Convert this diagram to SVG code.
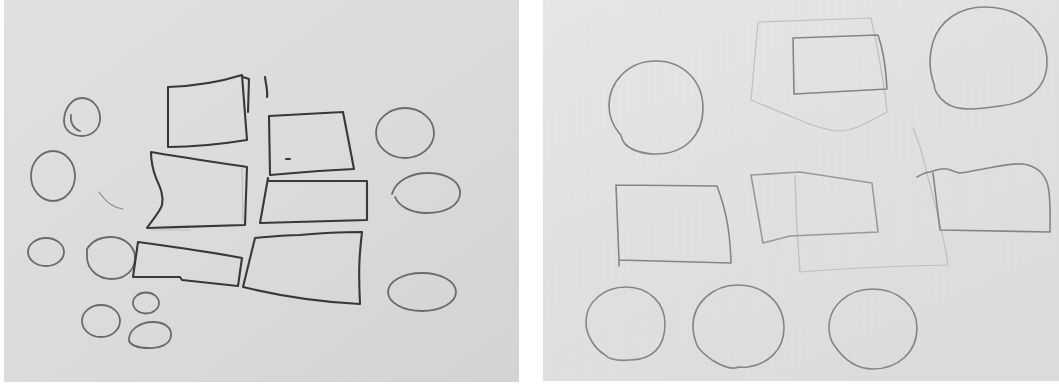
<svg xmlns="http://www.w3.org/2000/svg" width="1059" height="387" viewBox="0 0 1059 387">
<defs>
<linearGradient id="paperL" x1="0" y1="0" x2="1" y2="1">
<stop offset="0" stop-color="#dfe0df"/>
<stop offset="0.5" stop-color="#dadbda"/>
<stop offset="1" stop-color="#d2d3d2"/>
</linearGradient>
<linearGradient id="paperR" x1="0" y1="0" x2="0.6" y2="1">
<stop offset="0" stop-color="#e6e6e5"/>
<stop offset="1" stop-color="#dcdcdb"/>
</linearGradient>
<pattern id="ruleR" width="9" height="10" patternUnits="userSpaceOnUse">
<line x1="4" y1="0" x2="4" y2="10" stroke="#d3d3d2" stroke-width="0.6"/>
</pattern>
</defs>
<style>
.dark{fill:none;stroke:#383838;stroke-width:2.1;stroke-linejoin:round;stroke-linecap:round}
.mid{fill:none;stroke:#6a6a6a;stroke-width:1.8;stroke-linecap:round}
.soft{fill:none;stroke:#858585;stroke-width:1.6;stroke-linejoin:round;stroke-linecap:round}
.faint{fill:none;stroke:#bfbfbe;stroke-width:1.2;stroke-linejoin:round;stroke-linecap:round}
</style>
<rect width="1059" height="387" fill="#ffffff"/>
<rect x="4" y="0" width="515" height="382" fill="url(#paperL)"/>
<rect x="543" y="0" width="516" height="381" fill="url(#paperR)"/>
<rect x="543" y="0" width="516" height="381" fill="url(#ruleR)" opacity="0.4"/>

<g id="left-sketch">
<g id="L-circle-1"><path class="mid" d="M82,98 C94,98 101,110 100,120 C99,131 90,136 82,136 C72,136 64,130 64,121 C64,110 71,98 82,98 Z M71,115 C70,123 74,129 80,131"/></g>
<g id="L-circle-2"><ellipse class="mid" cx="53" cy="176" rx="22" ry="25"/></g>
<g id="L-arc"><path class="faint" style="stroke:#8a8a8a" d="M99,192 C104,199 110,207 123,209"/></g>
<g id="L-circle-3"><ellipse class="mid" cx="46" cy="252" rx="18" ry="14"/></g>
<g id="L-circle-4"><path class="mid" d="M87,249 C92,241 101,237 111,237 C124,237 135,246 135,258 C135,271 124,279 112,279 C98,279 88,270 87,258 Z"/></g>
<g id="L-circle-5"><ellipse class="mid" cx="101" cy="321" rx="19" ry="16"/></g>
<g id="L-circle-6"><ellipse class="mid" cx="146" cy="303" rx="13" ry="10.5"/></g>
<g id="L-circle-7"><path class="mid" d="M129,341 C128,330 140,322 153,322 C165,322 172,328 171,336 C170,344 160,349 148,348 C138,348 131,345 129,341 Z"/></g>
<g id="L-rect-1"><path class="dark" d="M168,87 C195,86 220,82 242,75 L247,140 C222,144 195,147 168,147 Z M243,77 L249,79 L248,112"/></g>
<g id="L-rect-2"><path class="dark" d="M151,152 C185,158 215,162 247,167 L245,225 C215,226 180,227 147,228 C152,220 160,212 162,205 C164,195 160,187 156,178 C153,170 151,160 151,152 Z"/><path class="faint" d="M150,230 L190,230 M242,168 L243,222"/></g>
<g id="L-tick"><path class="dark" d="M265,77 C266,85 268,92 267,97"/></g>
<g id="L-rect-3"><path class="dark" d="M269,116 L343,112 L354,169 C330,170 300,172 270,175 Z"/><path class="dark" d="M286,159 L290,159"/></g>
<g id="L-rect-4"><path class="dark" d="M268,178 L268,181 L367,181 L367,220 C330,221 295,222 260,223 Z"/></g>
<g id="L-rect-5"><path class="dark" d="M138,242 C175,247 210,252 242,258 L238,286 L182,280 L180,277 L133,277 Z"/></g>
<g id="L-rect-6"><path class="dark" d="M255,238 C275,236 290,235 300,235 C320,233 340,232 362,232 C360,250 358,265 360,304 C320,302 280,296 243,287 Z"/></g>
<g id="L-circle-8"><ellipse class="mid" cx="405" cy="133" rx="29" ry="25"/></g>
<g id="L-circle-9"><path class="mid" d="M392,194 C396,180 412,173 428,173 C447,173 461,182 460,194 C459,206 445,213 427,213 C410,213 399,206 395,197"/></g>
<g id="L-circle-10"><ellipse class="mid" cx="422" cy="292" rx="34" ry="19"/></g>
</g>

<g id="right-sketch">
<g id="R-faint-1"><path class="faint" d="M758,22 L871,18 C878,50 884,80 887,112 M758,22 L751,100 L807,123 C820,128 830,131 840,131 C850,131 862,126 887,112"/></g>
<g id="R-faint-2"><path class="faint" d="M913,128 C918,140 922,150 926,170 C934,200 944,235 948,265 C900,266 850,268 800,272 L797,230 L795,175"/></g>
<g id="R-circle-1"><path class="soft" d="M656,61 C684,61 703,82 703,108 C703,134 686,154 656,154 C643,154 628,150 623,141 C621,137 622,135 619,133 C612,124 609,116 609,106 C609,82 628,61 656,61 Z"/></g>
<g id="R-rect-1"><path class="soft" d="M793,38 L878,35 C884,52 886,70 887,89 L794,94 Z"/></g>
<g id="R-circle-2"><path class="soft" d="M985,7 C1025,7 1047,35 1047,62 C1047,88 1028,103 1000,106 C980,109 958,112 946,103 C938,97 934,90 934,84 C929,70 929,55 933,42 C940,20 960,7 985,7 Z"/></g>
<g id="R-rect-2"><path class="soft" d="M616,185 L717,186 C724,205 730,225 731,263 L619,260 L619,266 M616,185 L619,260"/></g>
<g id="R-rect-3"><path class="soft" style="stroke:#999998" d="M751,175 L800,172 L872,183 L878,232 L790,236 L763,243 Z"/></g>
<g id="R-rect-4"><path class="soft" d="M917,177 C922,174 926,172 930,172 C936,170 942,168 947,169 C952,170 956,173 960,173 C970,172 975,170 983,169 C1000,166 1012,163 1023,164 C1036,166 1045,174 1048,186 C1051,200 1050,215 1050,232 L940,230 L933,173"/></g>
<g id="R-circle-3"><path class="soft" d="M626,287 C649,287 665,303 665,324 C665,347 652,360 630,360 C620,361 610,360 605,355 C594,348 586,335 586,322 C586,302 604,287 626,287 Z"/></g>
<g id="R-circle-4"><path class="soft" d="M738,285 C764,285 784,303 784,328 C784,350 768,364 748,367 C742,368 740,366 735,368 C728,369 720,365 712,360 C706,355 700,352 697,345 C694,338 693,332 693,326 C693,303 713,285 738,285 Z"/></g>
<g id="R-circle-5"><path class="soft" d="M873,289 C898,289 917,306 917,328 C917,352 898,369 873,369 C857,369 844,360 834,345 C830,340 830,336 829,330 C828,306 848,289 873,289 Z"/></g>
</g>
</svg>
